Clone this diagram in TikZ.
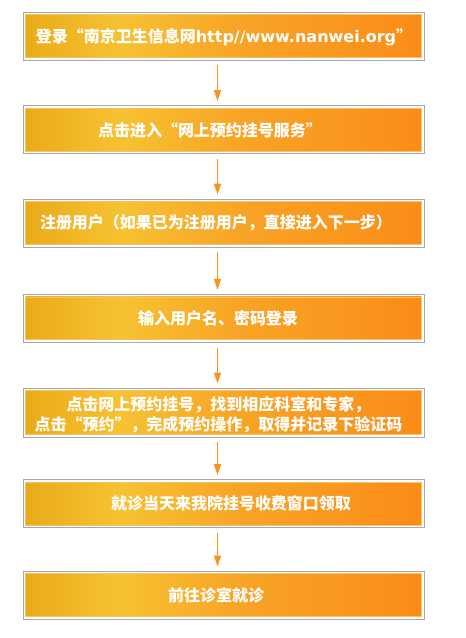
\documentclass[tikz,border=0pt]{standalone}
\usepackage{fontspec}
\usetikzlibrary{arrows.meta}
\newfontfamily\cjk{Noto Sans CJK SC}
\newfontfamily\lat{DejaVu Sans}
\definecolor{gL}{HTML}{EAAA18}
\definecolor{gP}{HTML}{F6C232}
\definecolor{gM}{HTML}{F8A426}
\definecolor{gR}{HTML}{FA8C18}
\definecolor{boxgray}{HTML}{A8A8A8}
\definecolor{innerline}{HTML}{FBC060}
\definecolor{arrowc}{HTML}{F7931E}
\pgfdeclarehorizontalshading{boxshade}{100bp}{color(0bp)=(gL); color(25bp)=(gL); color(37bp)=(gP); color(52bp)=(gM); color(75bp)=(gR); color(100bp)=(gR)}
\tikzset{
  stepbox/.style={draw=boxgray, line width=0.9pt, fill=white,
    minimum width=401pt, minimum height=48pt, inner sep=0pt,
    path picture={\shade[shading=boxshade, draw=innerline, line width=0.7pt]
      ([shift={(2.6pt,-2.6pt)}]path picture bounding box.north west) rectangle
      ([shift={(-2.6pt,2.6pt)}]path picture bounding box.south east);}},
  steptext/.style={text=white, inner sep=0pt, align=center,
    font=\cjk\bfseries\fontsize{16}{20}\selectfont},
  flow/.style={draw=arrowc, line width=1.4pt, -{Triangle[length=11pt,width=7pt]}}
}
\begin{document}
\begin{tikzpicture}[x=1pt,y=-1pt]
\useasboundingbox (0,0) rectangle (466,638);
\node[stepbox] (b1) at (223.5,36) {};
\node[stepbox] (b2) at (223.5,129.5) {};
\node[stepbox] (b3) at (223.5,223) {};
\node[stepbox] (b4) at (223.5,318.3) {};
\node[stepbox, minimum height=49pt] (b5) at (223.5,412.5) {};
\node[stepbox] (b6) at (223.5,503.5) {};
\node[stepbox] (b7) at (223.5,595) {};
\node[steptext] (t1) at (224,37.5) {登录“南京卫生信息网{\lat\bfseries http//www.nanwei.org}”};
\node[steptext] (t2) at (210,130) {点击进入“网上预约挂号服务”};
\node[steptext] (t3) at (216,223) {注册用户（如果已为注册用户，直接进入下一步）};
\node[steptext] (t4) at (218,318.5) {输入用户名、密码登录};
\node[steptext] (t5) at (218.5,415) {点击网上预约挂号，找到相应科室和专家，\\点击“预约”，完成预约操作，取得并记录下验证码};
\node[steptext] (t6) at (231,503.5) {就诊当天来我院挂号收费窗口领取};
\node[steptext] (t7) at (216,595) {前往诊室就诊};
\foreach \a/\b in {b1/b2,b2/b3,b3/b4,b4/b5,b5/b6,b6/b7}{
  \draw[flow] ([xshift=-6pt,yshift=-5pt]\a.south) -- ([xshift=-6pt,yshift=4pt]\b.north);
}
\end{tikzpicture}
\end{document}
